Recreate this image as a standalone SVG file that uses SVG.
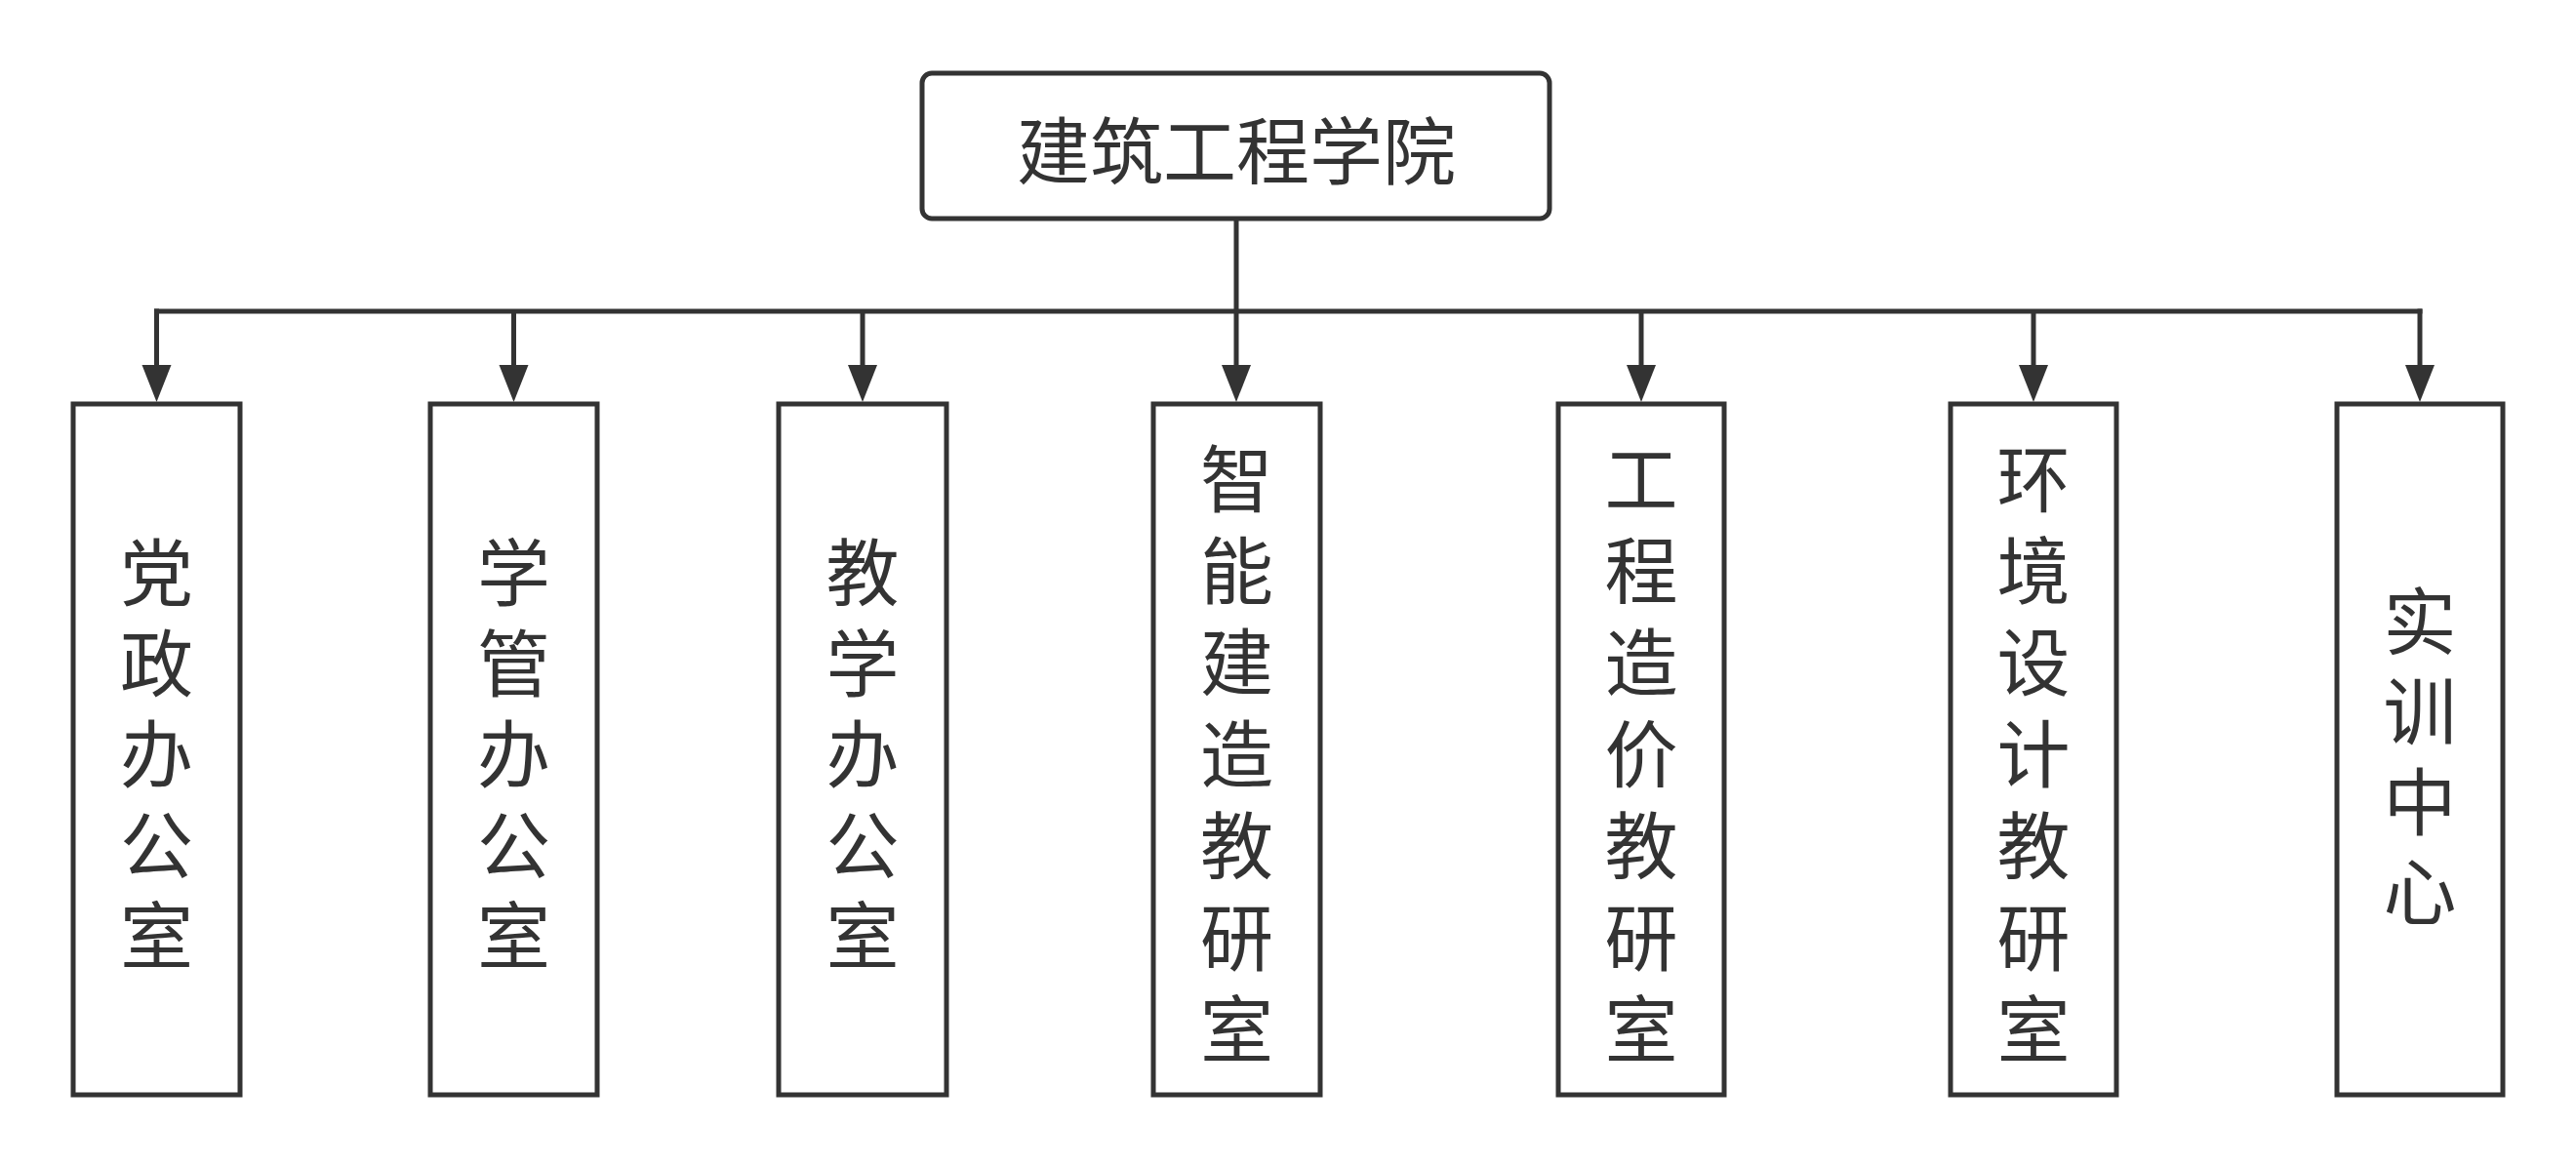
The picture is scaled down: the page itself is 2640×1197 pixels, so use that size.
<svg xmlns="http://www.w3.org/2000/svg" width="2640" height="1197" viewBox="0 0 2640 1197">
<style>
.box{fill:#fff;stroke:#333;stroke-width:5}
.t{font-family:"Noto Sans CJK SC","Noto Sans",sans-serif;font-size:75px;fill:#333;text-anchor:middle;dominant-baseline:central}
.c{fill:none;stroke:#333;stroke-width:5}
</style>
<defs>
<marker id="arr" markerUnits="userSpaceOnUse" markerWidth="42" markerHeight="34" viewBox="0 -17 42 34" refX="0" refY="0" orient="auto">
<path d="M0,-15 L38,0 L0,15 Z" fill="#333"/>
</marker>
</defs>
<rect width="2640" height="1197" fill="#fff"/>
<g id="connectors">
<path class="c" d="M1267,224 V374" marker-end="url(#arr)"/>
<path class="c" d="M158,319 H2482.5"/>
<path class="c" d="M160.5,316.5 V374" marker-end="url(#arr)"/>
<path class="c" d="M526.5,319 V374" marker-end="url(#arr)"/>
<path class="c" d="M884,319 V374" marker-end="url(#arr)"/>
<path class="c" d="M1682,319 V374" marker-end="url(#arr)"/>
<path class="c" d="M2084,319 V374" marker-end="url(#arr)"/>
<path class="c" d="M2480,316.5 V374" marker-end="url(#arr)"/>
</g>
<g id="n0">
<rect class="box" x="945" y="75" width="643" height="149" rx="10"/>
<text class="t" x="1267" y="150">建筑工程学院</text>
</g>
<g id="n1">
<rect class="box" x="75" y="414" width="171" height="708"/>
<text class="t"><tspan x="160.5" y="582">党</tspan><tspan x="160.5" y="675">政</tspan><tspan x="160.5" y="768">办</tspan><tspan x="160.5" y="861">公</tspan><tspan x="160.5" y="954">室</tspan></text>
</g>
<g id="n2">
<rect class="box" x="441" y="414" width="171" height="708"/>
<text class="t"><tspan x="526.5" y="582">学</tspan><tspan x="526.5" y="675">管</tspan><tspan x="526.5" y="768">办</tspan><tspan x="526.5" y="861">公</tspan><tspan x="526.5" y="954">室</tspan></text>
</g>
<g id="n3">
<rect class="box" x="798" y="414" width="172" height="708"/>
<text class="t"><tspan x="884" y="582">教</tspan><tspan x="884" y="675">学</tspan><tspan x="884" y="768">办</tspan><tspan x="884" y="861">公</tspan><tspan x="884" y="954">室</tspan></text>
</g>
<g id="n4">
<rect class="box" x="1182" y="414" width="171" height="708"/>
<text class="t"><tspan x="1267.5" y="486">智</tspan><tspan x="1267.5" y="580">能</tspan><tspan x="1267.5" y="674">建</tspan><tspan x="1267.5" y="768">造</tspan><tspan x="1267.5" y="862">教</tspan><tspan x="1267.5" y="956">研</tspan><tspan x="1267.5" y="1050">室</tspan></text>
</g>
<g id="n5">
<rect class="box" x="1597" y="414" width="170" height="708"/>
<text class="t"><tspan x="1682" y="486">工</tspan><tspan x="1682" y="580">程</tspan><tspan x="1682" y="674">造</tspan><tspan x="1682" y="768">价</tspan><tspan x="1682" y="862">教</tspan><tspan x="1682" y="956">研</tspan><tspan x="1682" y="1050">室</tspan></text>
</g>
<g id="n6">
<rect class="box" x="1999" y="414" width="170" height="708"/>
<text class="t"><tspan x="2084" y="486">环</tspan><tspan x="2084" y="580">境</tspan><tspan x="2084" y="674">设</tspan><tspan x="2084" y="768">计</tspan><tspan x="2084" y="862">教</tspan><tspan x="2084" y="956">研</tspan><tspan x="2084" y="1050">室</tspan></text>
</g>
<g id="n7">
<rect class="box" x="2395" y="414" width="170" height="708"/>
<text class="t"><tspan x="2480" y="631.5">实</tspan><tspan x="2480" y="724">训</tspan><tspan x="2480" y="816.5">中</tspan><tspan x="2480" y="909">心</tspan></text>
</g>
</svg>
